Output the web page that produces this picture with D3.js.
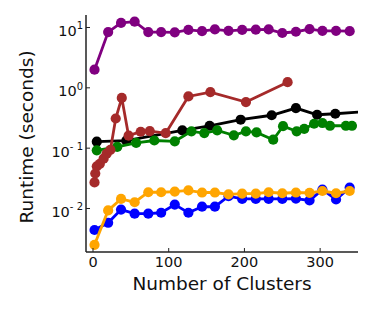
<!DOCTYPE html>
<html>
<head>
<meta charset="utf-8">
<script src="https://cdn.jsdelivr.net/npm/d3@7"></script>
<style>
  body { margin: 0; background: #fff; }
  text { font-family: "DejaVu Sans", sans-serif; fill: #111; }
</style>
</head>
<body>
<script>
// cluster counts shared by purple, blue and orange
var xsCommon = [2, 20, 37, 55, 73, 90, 108, 126, 144, 161, 179, 197, 215, 232, 250, 268, 286, 303, 321, 339];
var purpleY = [2.0, 8.4, 11.9, 12.5, 8.4, 8.4, 8.3, 9.1, 8.7, 9.3, 8.8, 9.1, 9.2, 9.3, 8.1, 8.5, 9.4, 8.8, 8.8, 8.7];
var blueY = [0.0044, 0.0058, 0.0096, 0.0082, 0.0082, 0.0085, 0.0116, 0.0085, 0.0107, 0.0107, 0.016, 0.0144, 0.0144, 0.0144, 0.0144, 0.0146, 0.0136, 0.0206, 0.0141, 0.0222];
var orangeY = [0.0025, 0.0093, 0.0144, 0.0127, 0.0186, 0.0186, 0.0191, 0.0199, 0.0184, 0.0184, 0.0172, 0.0177, 0.0177, 0.0186, 0.0179, 0.0184, 0.0182, 0.0195, 0.0179, 0.0195];

var brownX = [2, 3, 5, 9, 14, 18, 23, 30, 38, 47, 63, 75, 96, 126, 155, 202, 257];
var brownY = [0.027, 0.038, 0.05, 0.055, 0.067, 0.081, 0.094, 0.31, 0.68, 0.161, 0.187, 0.191, 0.177, 0.72, 0.85, 0.58, 1.24];

var blackX = [5, 44, 118, 154, 195, 236, 268, 296, 320, 370];
var blackY = [0.128, 0.133, 0.197, 0.235, 0.296, 0.351, 0.462, 0.358, 0.372, 0.41];

var greenX = [5, 32, 57, 81, 108, 130, 147, 164, 186, 202, 216, 238, 251, 269, 279, 292, 303, 313, 334, 342];
var greenY = [0.092, 0.105, 0.122, 0.134, 0.13, 0.19, 0.178, 0.197, 0.163, 0.19, 0.182, 0.138, 0.231, 0.19, 0.208, 0.254, 0.261, 0.235, 0.235, 0.235];

var xTicks = [0, 100, 200, 300];
var yTicks = [0.01, 0.1, 1, 10];
var yTickExp = ["-2", "-1", "0", "1"];

var series = [
  {color: "#800080", xs: xsCommon, ys: purpleY},
  {color: "#000000", xs: blackX, ys: blackY},
  {color: "#008000", xs: greenX, ys: greenY},
  {color: "#a52a2a", xs: brownX, ys: brownY},
  {color: "#0000ff", xs: xsCommon, ys: blueY},
  {color: "#ffa500", xs: xsCommon, ys: orangeY}
];

var W = 374, H = 312;
var mLeft = 86, mRight = 358, mTop = 15, mBottom = 252;

var x = d3.scaleLinear().domain([-9.25, 350]).range([mLeft, mRight]);
var y = d3.scaleLog().domain([Math.pow(10, -2.721), Math.pow(10, 1.207)]).range([mBottom, mTop]);

var svg = d3.select("body").append("svg")
  .attr("width", W)
  .attr("height", H);

svg.append("clipPath").attr("id", "plot")
  .append("rect")
  .attr("x", mLeft).attr("y", mTop)
  .attr("width", mRight - mLeft).attr("height", mBottom - mTop);

var line = d3.line()
  .x(function(d) { return x(d[0]); })
  .y(function(d) { return y(d[1]); });

var g = svg.append("g").attr("clip-path", "url(#plot)");

series.forEach(function(s) {
  var pts = s.xs.map(function(v, i) { return [v, s.ys[i]]; });
  g.append("path")
    .datum(pts)
    .attr("fill", "none")
    .attr("stroke", s.color)
    .attr("stroke-width", 2.8)
    .attr("d", line);
  g.selectAll(null).data(pts)
    .enter().append("circle")
    .attr("cx", function(d) { return x(d[0]); })
    .attr("cy", function(d) { return y(d[1]); })
    .attr("r", 5.1)
    .attr("fill", s.color);
});

// spines (left + bottom only)
svg.append("line")
  .attr("x1", mLeft).attr("x2", mLeft).attr("y1", mTop).attr("y2", mBottom)
  .attr("stroke", "#222").attr("stroke-width", 1.5);
svg.append("line")
  .attr("x1", mLeft).attr("x2", mRight).attr("y1", mBottom).attr("y2", mBottom)
  .attr("stroke", "#222").attr("stroke-width", 1.5);

// x ticks, pointing inward
xTicks.forEach(function(t) {
  svg.append("line")
    .attr("x1", x(t)).attr("x2", x(t)).attr("y1", mBottom).attr("y2", mBottom - 4)
    .attr("stroke", "#222").attr("stroke-width", 1);
  svg.append("text")
    .attr("x", x(t)).attr("y", mBottom + 15)
    .attr("text-anchor", "middle")
    .style("font-size", "14.5px")
    .text(t);
});

// y ticks with 10^n labels
yTicks.forEach(function(t, i) {
  var yy = y(t);
  svg.append("line")
    .attr("x1", mLeft).attr("x2", mLeft + 4).attr("y1", yy).attr("y2", yy)
    .attr("stroke", "#222").attr("stroke-width", 1);
  var lab = svg.append("text")
    .attr("x", mLeft - 3).attr("y", yy + 8.5)
    .attr("text-anchor", "end")
    .style("font-size", "14.5px");
  lab.append("tspan").text("10");
  lab.append("tspan")
    .attr("dy", -6.5)
    .style("font-size", "10px")
    .text(yTickExp[i].replace("-", "- "));
});

svg.append("text")
  .attr("x", (mLeft + mRight) / 2).attr("y", 290)
  .attr("text-anchor", "middle")
  .style("font-size", "18.5px")
  .text("Number of Clusters");

svg.append("text")
  .attr("transform", "translate(33," + 137 + ") rotate(-90)")
  .attr("text-anchor", "middle")
  .style("font-size", "18.5px")
  .text("Runtime (seconds)");
</script>
</body>
</html>
